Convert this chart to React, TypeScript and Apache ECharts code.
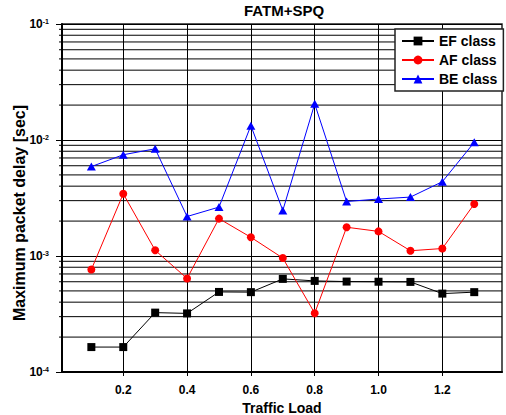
import React, { useEffect, useRef } from "react";
import * as echarts from "echarts";

const xLoad = [0.1, 0.2, 0.3, 0.4, 0.5, 0.6, 0.7, 0.8, 0.9, 1.0, 1.1, 1.2, 1.3];
const efDelay = [1.64e-4, 1.64e-4, 3.25e-4, 3.2e-4, 4.9e-4, 4.88e-4, 6.35e-4, 6.1e-4, 6.02e-4, 6.0e-4, 5.98e-4, 4.74e-4, 4.88e-4];
const afDelay = [7.64e-4, 3.44e-3, 1.12e-3, 6.4e-4, 2.1e-3, 1.45e-3, 9.6e-4, 3.21e-4, 1.77e-3, 1.63e-3, 1.11e-3, 1.16e-3, 2.81e-3];
const beDelay = [5.9e-3, 7.46e-3, 8.4e-3, 2.19e-3, 2.64e-3, 1.33e-2, 2.47e-3, 2.05e-2, 2.95e-3, 3.1e-3, 3.22e-3, 4.37e-3, 9.55e-3];
const xTickValues = [0.2, 0.4, 0.6, 0.8, 1.0, 1.2];
const yMinorGrid = [
  2e-4, 3e-4, 4e-4, 5e-4, 6e-4, 7e-4, 8e-4, 9e-4,
  2e-3, 3e-3, 4e-3, 5e-3, 6e-3, 7e-3, 8e-3, 9e-3,
  2e-2, 3e-2, 4e-2, 5e-2, 6e-2, 7e-2, 8e-2, 9e-2,
];
const seriesNames = ["EF class", "AF class", "BE class"];
const yAxisTitle = "Maximum packet delay [sec]";

const X_MIN = 0.008;
const X_MAX = 1.387;
const FONT = '"Liberation Sans", Arial, sans-serif';

export default function App() {
  const ref = useRef<HTMLDivElement>(null);
  useEffect(() => {
    document.body.style.margin = "0";
    if (!ref.current) return;
    const chart = echarts.init(ref.current, null, { renderer: "svg" });
    const pairs = (ys: number[]) => xLoad.map((x, i) => [x, ys[i]]);
    chart.setOption({
      animation: false,
      backgroundColor: "#fff",
      title: {
        text: "FATM+SPQ",
        left: 284,
        textAlign: "center",
        top: 3,
        padding: 0,
        textStyle: { fontFamily: FONT, fontWeight: "bold", fontSize: 15, color: "#000" },
      },
      legend: {
        left: 395,
        top: 29,
        orient: "vertical",
        padding: [5, 6, 5, 6],
        itemWidth: 32,
        itemHeight: 11,
        itemGap: 5,
        backgroundColor: "#fff",
        borderColor: "#222",
        borderWidth: 1.5,
        borderRadius: 0,
        data: seriesNames,
        textStyle: { fontFamily: FONT, fontWeight: "bold", fontSize: 14, color: "#000", lineHeight: 14 },
      },
      graphic: [
        {
          type: "text",
          x: 19.5,
          y: 213,
          rotation: Math.PI / 2,
          style: {
            text: yAxisTitle,
            align: "center",
            verticalAlign: "middle",
            fontFamily: FONT,
            fontWeight: "bold",
            fontSize: 16,
            fill: "#000",
          },
        },
      ],
      grid: {
        left: 62,
        right: 4,
        top: 24,
        bottom: 43,
        containLabel: false,
        outerBoundsMode: "none",
        show: true,
        borderColor: "#222",
        borderWidth: 1.5,
        backgroundColor: "transparent",
      },
      xAxis: {
        type: "value",
        min: X_MIN,
        max: X_MAX,
        splitNumber: 7,
        name: "Traffic Load",
        nameLocation: "middle",
        nameGap: 24,
        nameTextStyle: { fontFamily: FONT, fontWeight: "bold", fontSize: 14, color: "#000" },
        axisLine: { show: true, onZero: false, lineStyle: { color: "#000", width: 2 } },
        axisTick: { show: true, inside: false, length: 4, customValues: xTickValues, lineStyle: { color: "#000" } },
        axisLabel: {
          customValues: xTickValues,
          margin: 12,
          fontFamily: FONT,
          fontWeight: "bold",
          fontSize: 12,
          color: "#000",
          formatter: (v: number) => v.toFixed(1),
        },
        splitLine: { show: true, lineStyle: { color: "#000", width: 1 } },
      },
      yAxis: {
        type: "log",
        logBase: 10,
        min: 1e-4,
        max: 1e-1,
        axisLine: { show: true, onZero: false, lineStyle: { color: "#000", width: 2 } },
        axisTick: { show: true, inside: false, length: 6, lineStyle: { color: "#000" } },
        axisLabel: {
          margin: 13,
          color: "#000",
          formatter: (v: number) => {
            const e = Math.round(Math.log10(v));
            return `{b|10}{s|${e}}`;
          },
          rich: {
            b: { fontFamily: FONT, fontWeight: "bold", fontSize: 12, color: "#000", lineHeight: 13 },
            s: { fontFamily: FONT, fontWeight: "bold", fontSize: 7, color: "#000", verticalAlign: "top" },
          },
        },
        splitLine: { show: true, lineStyle: { color: "#000", width: 1 } },
      },
      series: [
        {
          type: "custom",
          name: "minor-grid",
          silent: true,
          z: 1,
          clip: false,
          data: yMinorGrid.map((v) => [X_MIN, v]),
          encode: { x: 0, y: 1 },
          renderItem: (params: any, api: any) => {
            const p = api.coord([api.value(0), api.value(1)]);
            const cs = params.coordSys;
            return {
              type: "line",
              shape: { x1: cs.x - 3, y1: p[1], x2: cs.x + cs.width, y2: p[1] },
              style: { stroke: "#000", lineWidth: 1 },
            };
          },
        },
        {
          type: "line",
          name: seriesNames[0],
          data: pairs(efDelay),
          z: 3,
          symbol: "rect",
          symbolSize: 8,
          itemStyle: { color: "#000" },
          lineStyle: { width: 1, color: "#000" },
        },
        {
          type: "line",
          name: seriesNames[1],
          data: pairs(afDelay),
          z: 3,
          symbol: "circle",
          symbolSize: 8,
          itemStyle: { color: "#ff0000" },
          lineStyle: { width: 1, color: "#ff0000" },
        },
        {
          type: "line",
          name: seriesNames[2],
          data: pairs(beDelay),
          z: 3,
          symbol: "triangle",
          symbolSize: [9, 8],
          itemStyle: { color: "#0000ff" },
          lineStyle: { width: 1, color: "#0000ff" },
        },
      ],
    });
    return () => chart.dispose();
  }, []);
  return <div ref={ref} style={{ width: 506, height: 415 }} />;
}
